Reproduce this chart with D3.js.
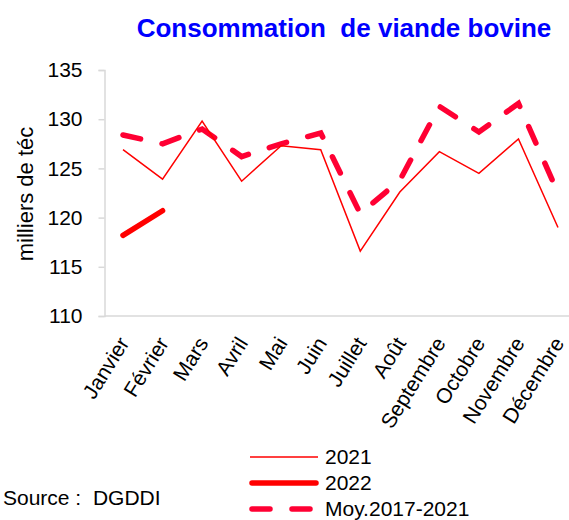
<!DOCTYPE html>
<html>
<head>
<meta charset="utf-8">
<script src="https://cdn.jsdelivr.net/npm/d3@7"></script>
<style>
  body { margin: 0; background: #fff; }
  svg { display: block; font-family: "Liberation Sans", Arial, sans-serif; }
</style>
</head>
<body>
<div id="chart"></div>
<script>
// Consommation de viande bovine (milliers de téc)
const months = ['Janvier', 'Février', 'Mars', 'Avril', 'Mai', 'Juin',
    'Juillet', 'Août', 'Septembre', 'Octobre', 'Novembre', 'Décembre'];
const values2021 = [126.9, 123.9, 129.8, 123.7, 127.3, 126.9, 116.6, 122.6, 126.7, 124.5, 128.0, 119.0];
const values2022 = [118.2, 120.7];
const valuesMoy = [128.4, 127.5, 129.0, 126.2, 127.5, 128.6, 120.4, 123.8, 131.3, 128.7, 131.6, 122.5];
const yTicks = [110, 115, 120, 125, 130, 135];

const width = 569, height = 520;
const margin = { top: 70, left: 104.5, bottom: 316 };

const svg = d3.select('#chart').append('svg')
    .attr('width', width)
    .attr('height', height);

const x = d3.scalePoint()
    .domain(months)
    .range([123, 558]);

const y = d3.scaleLinear()
    .domain([110, 135])
    .range([margin.bottom, margin.top]);

// title
svg.append('text')
    .attr('x', 344)
    .attr('y', 37)
    .attr('text-anchor', 'middle')
    .attr('fill', '#0000ff')
    .attr('font-weight', 'bold')
    .attr('font-size', '26px')
    .style('white-space', 'pre')
    .text('Consommation  de viande bovine');

// y axis
const yAxis = svg.append('g')
    .attr('transform', `translate(${margin.left},0)`)
    .call(d3.axisLeft(y).tickValues(yTicks).tickSize(6).tickPadding(16));
yAxis.select('.domain').attr('stroke', '#d9d9d9').attr('stroke-width', 1.5);
yAxis.selectAll('.tick line').attr('stroke', '#d9d9d9').attr('stroke-width', 1.5);
yAxis.selectAll('.tick text')
    .attr('font-size', '21px')
    .attr('fill', '#000')
    .attr('font-family', '"Liberation Sans", Arial, sans-serif');

// x axis line
svg.append('line')
    .attr('x1', margin.left)
    .attr('x2', width)
    .attr('y1', y(110))
    .attr('y2', y(110))
    .attr('stroke', '#d9d9d9')
    .attr('stroke-width', 1.5);

// x labels
svg.append('g').selectAll('text')
    .data(months)
    .join('text')
    .attr('transform', d => `translate(${x(d) + 7},${y(110) + 27}) rotate(-58)`)
    .attr('text-anchor', 'end')
    .attr('font-size', '21px')
    .attr('fill', '#000')
    .text(d => d);

// y label
svg.append('text')
    .attr('transform', `translate(33,194) rotate(-90)`)
    .attr('text-anchor', 'middle')
    .attr('font-size', '22px')
    .attr('fill', '#000')
    .text('milliers de téc');

const line = d3.line()
    .x((d, i) => x(months[i]))
    .y(d => y(d));

svg.append('path')
    .datum(valuesMoy)
    .attr('fill', 'none')
    .attr('stroke', '#ff0033')
    .attr('stroke-width', 5.5)
    .attr('stroke-linecap', 'round')
    .attr('stroke-dasharray', '18,22')
    .attr('d', line);

svg.append('path')
    .datum(values2021)
    .attr('fill', 'none')
    .attr('stroke', '#ff0000')
    .attr('stroke-width', 1.5)
    .attr('d', line);

svg.append('path')
    .datum(values2022)
    .attr('fill', 'none')
    .attr('stroke', '#ff0000')
    .attr('stroke-width', 5.5)
    .attr('stroke-linecap', 'round')
    .attr('d', line);

// legend
const legendItems = [
    { label: '2021', width: 1.5, color: '#ff0000', dash: null, cap: 'butt' },
    { label: '2022', width: 5.5, color: '#ff0000', dash: null, cap: 'round' },
    { label: 'Moy.2017-2021', width: 5.5, color: '#ff0033', dash: '18,22', cap: 'round' }
];
const legend = svg.append('g');
legendItems.forEach((item, i) => {
    const ly = 457 + i * 26;
    legend.append('line')
        .attr('x1', item.cap === 'round' ? 252 : 250)
        .attr('x2', item.cap === 'round' ? 316 : 318)
        .attr('y1', ly)
        .attr('y2', ly)
        .attr('stroke', item.color)
        .attr('stroke-width', item.width)
        .attr('stroke-linecap', item.cap)
        .attr('stroke-dasharray', item.dash);
    legend.append('text')
        .attr('x', 325)
        .attr('y', ly)
        .attr('dy', '0.35em')
        .attr('font-size', '21px')
        .attr('fill', '#000')
        .text(item.label);
});

// source
svg.append('text')
    .attr('x', 3)
    .attr('y', 505)
    .attr('font-size', '21px')
    .attr('fill', '#000')
    .style('white-space', 'pre')
    .text('Source :  DGDDI');
</script>
</body>
</html>
